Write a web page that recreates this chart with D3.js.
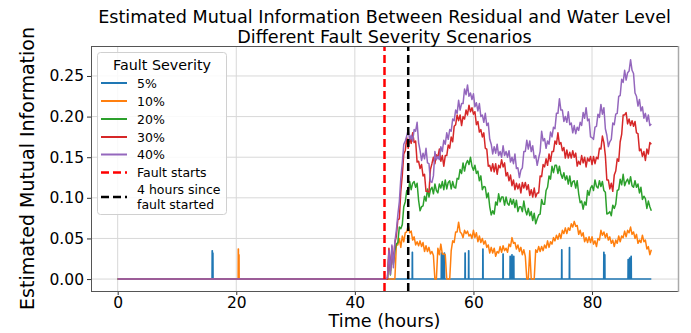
<!DOCTYPE html>
<html>
<head>
<meta charset="utf-8">
<script src="https://cdn.jsdelivr.net/npm/d3@7"></script>
<style>
  body { margin: 0; background: #fff; }
  svg { display: block; }
  text { font-family: "DejaVu Sans", sans-serif; fill: #000; }
</style>
</head>
<body>
<svg id="chart" width="691" height="333"></svg>
<script>
// ---- data -------------------------------------------------------------
const severityLabels = ["5%", "10%", "20%", "30%", "40%"];
const severityColors = ["#1f77b4", "#ff7f0e", "#2ca02c", "#d62728", "#9467bd"];

const faultStartHour = 45;
const faultPlus4Hour = 49;
const endHour = 90;

const xTicks = [0, 20, 40, 60, 80];
const yTicks = [0.00, 0.05, 0.10, 0.15, 0.20, 0.25];

// Post-fault estimates sampled every 15 min from hour 45 to hour 90,
// stored in thousandths of a nat.
const gridStart = 45;
const gridStep = 0.25;

const mi10 = [0,0,0,0,0,0,0,0,
  42,42,50,39,53,46,57,58,66,57,59,48,52,42,46,41,47,40,45,34,41,34,39,31,
  34,29,0,0,38,30,43,31,31,30,0,0,0,35,47,45,58,58,70,58,56,51,60,56,
  59,53,55,50,60,51,57,46,53,45,50,43,47,39,42,32,39,32,38,28,34,32,40,33,
  41,35,38,33,43,40,51,44,45,37,42,34,39,30,36,28,0,0,35,0,0,0,36,33,
  40,34,40,35,42,38,47,39,46,43,51,47,54,49,56,50,60,56,63,56,63,60,68,64,
  71,65,66,55,60,53,57,46,51,45,52,45,52,43,47,40,50,48,60,54,58,51,56,48,
  52,44,48,40,48,44,53,46,53,51,59,52,60,57,64,55,58,50,55,44,48,45,54,46,
  48,37,40,30,36];

const mi20 = [0,0,0,30,5,35,18,35,
  43,45,64,62,67,89,95,109,106,120,110,118,120,113,118,97,84,89,90,102,96,111,101,110,
  113,105,117,109,106,117,112,120,110,122,111,119,121,111,120,113,112,124,123,135,130,143,133,142,
  146,141,150,139,134,140,130,133,121,127,110,114,113,100,106,89,79,84,80,95,91,105,95,101,
  101,91,101,93,91,99,92,98,88,97,83,89,89,83,96,85,79,87,78,83,72,81,68,74,
  79,80,98,92,92,109,113,127,123,139,131,140,140,130,139,129,124,131,122,127,117,127,114,120,
  121,112,121,105,94,96,86,95,91,109,103,112,115,109,122,114,112,121,114,120,109,107,80,81,
  83,78,91,87,92,109,110,123,116,129,115,120,123,117,126,115,113,121,113,117,106,113,98,102,
  99,87,96,89,84];

const mi30 = [0,0,0,38,10,40,20,45,
  53,73,74,108,128,154,158,174,161,174,167,180,168,170,144,145,136,141,127,129,108,108,107,135,
  142,150,142,153,150,160,145,152,139,152,152,165,161,175,169,188,190,202,195,202,189,200,197,208,
  202,214,206,211,203,206,190,194,181,184,175,180,161,160,139,140,133,142,132,142,129,140,137,147,
  138,143,127,131,121,128,115,122,110,118,111,117,106,119,112,119,110,116,103,110,101,112,101,106,
  106,127,126,141,138,148,140,154,145,157,157,170,166,180,166,168,158,162,149,159,149,156,149,158,
  150,155,139,145,141,152,143,150,138,149,145,151,141,151,142,150,148,161,160,176,168,152,122,122,
  111,118,108,128,133,148,145,169,178,202,202,205,191,197,189,195,188,194,180,179,158,160,151,157,
  146,160,154,168,166];

const mi40 = [0,0,2,35,6,42,14,46,60,79,95,124,143,166,170,176,
  184,171,177,170,184,182,193,168,158,146,155,148,161,143,142,120,119,127,157,147,151,147,163,157,
  171,166,180,172,184,182,197,195,208,204,220,208,216,216,234,227,239,225,229,221,228,212,217,207,
  216,200,202,193,204,189,192,172,166,154,163,155,166,152,157,150,164,152,157,150,158,144,150,142,
  154,136,137,125,134,137,157,157,171,160,170,157,164,149,152,140,149,157,182,170,173,161,170,166,
  181,175,187,185,204,204,222,208,208,194,200,193,206,190,192,180,189,179,187,183,193,189,205,198,
  211,195,197,175,174,172,187,188,203,199,215,203,211,185,177,163,169,172,192,190,203,204,225,226,
  246,242,257,245,254,256,270,257,253,229,225,213,221,207,212,198,204,194,202,189,191];

// Short isolated bursts: [hour, value in thousandths]
const spikes5 = [[15.95, 35], [16.05, 32],
  [49.7, 33], [54.6, 32], [54.8, 30], [55.1, 32], [58.6, 32], [59.2, 35],
  [61.6, 37], [65.0, 31], [66.2, 28], [66.5, 30], [66.8, 28], [74.9, 36],
  [76.2, 39], [82.0, 33], [82.15, 30], [86.1, 24], [86.35, 26], [86.6, 28]];
const spikes10 = [[20.35, 37], [20.45, 30]];

const seriesValues = [null, mi10, mi20, mi30, mi40];
const seriesSpikes = [spikes5, spikes10, [], [], []];

// ---- layout -----------------------------------------------------------
const plot = { left: 91, right: 678, top: 46, bottom: 291 };

const svg = d3.select("#chart");
const x = d3.scaleLinear().domain([-4.5, 94.5]).range([plot.left, plot.right]);
const y = d3.scaleLinear().domain([-0.0147, 0.2869]).range([plot.bottom, plot.top]);

// grid
const grid = svg.append("g").attr("stroke", "#d8d8d8").attr("stroke-width", 1);
xTicks.forEach(t => grid.append("line")
  .attr("x1", x(t)).attr("x2", x(t)).attr("y1", plot.top).attr("y2", plot.bottom));
yTicks.forEach(t => grid.append("line")
  .attr("x1", plot.left).attr("x2", plot.right).attr("y1", y(t)).attr("y2", y(t)));

// series lines
function buildPoints(values, spikes) {
  const pts = [[0, 0]];
  spikes.forEach(([t, v]) => {
    pts.push([t - 0.04, 0], [t - 0.02, v / 1000], [t + 0.02, v / 1000], [t + 0.04, 0]);
  });
  if (values) {
    values.forEach((v, i) => pts.push([gridStart + i * gridStep, v / 1000]));
  } else {
    pts.push([endHour, 0]);
  }
  pts.sort((a, b) => a[0] - b[0]);
  return pts;
}

const line = d3.line().x(d => x(d[0])).y(d => y(d[1]));
const linesG = svg.append("g");
severityLabels.forEach((lab, i) => {
  linesG.append("path")
    .datum(buildPoints(seriesValues[i], seriesSpikes[i]))
    .attr("d", line)
    .attr("fill", "none")
    .attr("stroke", severityColors[i])
    .attr("stroke-width", 1.5)
    .attr("stroke-linejoin", "round");
});

// fault markers
[[faultStartHour, "#ff0000"], [faultPlus4Hour, "#000000"]].forEach(([h, c]) => {
  svg.append("line")
    .attr("x1", x(h)).attr("x2", x(h))
    .attr("y1", plot.bottom).attr("y2", plot.top)
    .attr("stroke", c).attr("stroke-width", 2.5)
    .attr("stroke-dasharray", "8,4");
});

// axes
const xAxis = svg.append("g")
  .attr("transform", `translate(0,${plot.bottom})`)
  .call(d3.axisBottom(x).tickValues(xTicks).tickSize(4).tickPadding(2).tickFormat(d3.format("d")));
const yAxis = svg.append("g")
  .attr("transform", `translate(${plot.left},0)`)
  .call(d3.axisLeft(y).tickValues(yTicks).tickSize(4).tickPadding(3).tickFormat(d3.format(".2f")));
[xAxis, yAxis].forEach(a => {
  a.select(".domain").remove();
  a.selectAll(".tick line").attr("stroke", "#333");
  a.selectAll(".tick text").style("font-family", "DejaVu Sans").style("font-size", "15.5px").attr("fill", "#000");
});

// frame
svg.append("line").attr("x1", plot.left).attr("x2", plot.right).attr("y1", plot.top + 0.5).attr("y2", plot.top + 0.5).attr("stroke", "#555");
svg.append("line").attr("x1", plot.left).attr("x2", plot.right).attr("y1", plot.bottom + 0.5).attr("y2", plot.bottom + 0.5).attr("stroke", "#555");
svg.append("line").attr("x1", plot.left + 0.5).attr("x2", plot.left + 0.5).attr("y1", plot.top).attr("y2", plot.bottom + 1).attr("stroke", "#555");
svg.append("line").attr("x1", plot.right + 0.5).attr("x2", plot.right + 0.5).attr("y1", plot.top).attr("y2", plot.bottom + 1).attr("stroke", "#aaa").attr("stroke-width", 1.5);

// titles
const cx = (plot.left + plot.right) / 2;
svg.append("text").attr("x", cx).attr("y", 23).attr("text-anchor", "middle")
  .style("font-size", "17.6px").text("Estimated Mutual Information Between Residual and Water Level");
svg.append("text").attr("x", cx).attr("y", 43).attr("text-anchor", "middle")
  .style("font-size", "17.6px").text("Different Fault Severity Scenarios");
svg.append("text").attr("x", cx).attr("y", 327).attr("text-anchor", "middle")
  .style("font-size", "17.6px").text("Time (hours)");
svg.append("text").attr("transform", `translate(34,${(plot.top + plot.bottom) / 2}) rotate(-90)`)
  .attr("text-anchor", "middle").style("font-size", "19px").text("Estimated Mutual Information");

// legend
const legend = svg.append("g");
legend.append("rect")
  .attr("x", 97.5).attr("y", 52.5).attr("width", 129).attr("height", 162).attr("rx", 3)
  .attr("fill", "#fff").attr("fill-opacity", 0.85).attr("stroke", "#d0d0d0");
legend.append("text").attr("x", 162).attr("y", 69.5).attr("text-anchor", "middle")
  .style("font-size", "14.3px").text("Fault Severity");

const legendRows = severityLabels.map((lab, i) => ({ label: [lab], color: severityColors[i], dash: null }))
  .concat([
    { label: ["Fault starts"], color: "#ff0000", dash: "8,4" },
    { label: ["4 hours since", "fault started"], color: "#000000", dash: "8,4" }
  ]);
const rowY = [83, 101, 119, 137, 154.5, 172.5, 197];
legendRows.forEach((r, i) => {
  const yc = rowY[i];
  legend.append("line")
    .attr("x1", 101).attr("x2", 127).attr("y1", yc).attr("y2", yc)
    .attr("stroke", r.color).attr("stroke-width", r.dash ? 2.5 : 2)
    .attr("stroke-dasharray", r.dash);
  const n = r.label.length;
  r.label.forEach((s, j) => {
    legend.append("text").attr("x", 137).attr("y", yc + 4.5 + (j - (n - 1) / 2) * 14.5)
      .style("font-size", "12.5px").text(s);
  });
});
</script>
</body>
</html>
